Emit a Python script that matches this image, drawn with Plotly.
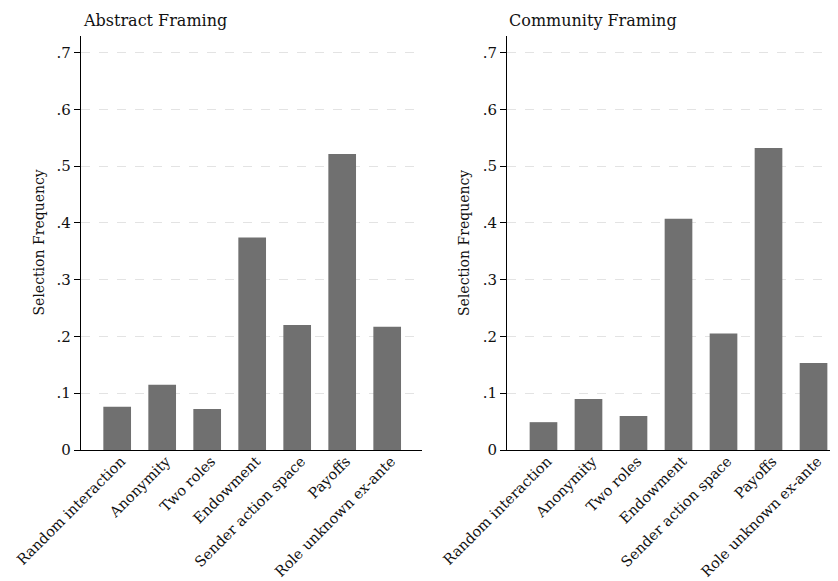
import plotly.graph_objects as go

categories = ["Random interaction", "Anonymity", "Two roles", "Endowment",
              "Sender action space", "Payoffs", "Role unknown ex-ante"]
abstract_vals = [0.076, 0.115, 0.072, 0.374, 0.220, 0.521, 0.217]
community_vals = [0.049, 0.090, 0.060, 0.407, 0.205, 0.532, 0.153]
ytick_vals = [0, 0.1, 0.2, 0.3, 0.4, 0.5, 0.6, 0.7]
ytick_text = ["0", ".1", ".2", ".3", ".4", ".5", ".6", ".7"]
panel_titles = ["Abstract Framing", "Community Framing"]

FONT = "DejaVu Serif"
BAR = "#707070"
OX, OY = 8, 8  # page body margin
W, H = 838 - OX, 581 - OY


def px(x):
    return (x - OX) / W


def py(y):
    return (581 - y) / H


fig = go.Figure()
xs = list(range(len(categories)))
fig.add_trace(go.Bar(x=xs, y=abstract_vals, marker_color=BAR, width=0.615,
                     marker_line_width=0, xaxis="x", yaxis="y", showlegend=False))
fig.add_trace(go.Bar(x=xs, y=community_vals, marker_color=BAR, width=0.615,
                     marker_line_width=0, xaxis="x2", yaxis="y2", showlegend=False))

ydom = [py(450), py(36)]
xaxis_common = dict(tickmode="array", tickvals=xs, ticktext=categories, tickangle=-45,
                    showgrid=False, zeroline=False, showline=True, linecolor="black",
                    linewidth=1.3, ticks="", automargin=False,
                    ticklabelstandoff=-4, ticklabelshift=4,
                    tickfont=dict(family=FONT, size=14.5, color="#111"))
yaxis_common = dict(range=[0, 0.729], tickmode="array", tickvals=ytick_vals, ticktext=ytick_text,
                    showgrid=True, gridcolor="#e3e3e3", griddash="dash", gridwidth=1,
                    zeroline=False, showline=True, linecolor="black", linewidth=1.3,
                    ticks="outside", ticklen=6, tickcolor="black", automargin=False,
                    tickfont=dict(family=FONT, size=15, color="#111"), domain=ydom)

fig.update_layout(
    template="none",
    width=W, height=H, margin=dict(l=0, r=0, t=0, b=0),
    plot_bgcolor="white", paper_bgcolor="white",
    xaxis=dict(domain=[px(81), px(421.7)], range=[-0.804, 6.767], anchor="y", **xaxis_common),
    yaxis=dict(anchor="x", **yaxis_common),
    xaxis2=dict(domain=[px(507.3), 1.0], range=[-0.804, 6.544], anchor="y2", **xaxis_common),
    yaxis2=dict(anchor="x2", **yaxis_common),
)

annots = []
for xp, t in [(84, panel_titles[0]), (510, panel_titles[1])]:
    annots.append(dict(x=px(xp), y=py(32), xref="paper", yref="paper",
                       text=t, showarrow=False, xanchor="left", yanchor="bottom",
                       xshift=-3, font=dict(family=FONT, size=16, color="#111")))
for xp in [38.5, 464]:
    annots.append(dict(x=px(xp), y=py(243), xref="paper", yref="paper",
                       text="Selection Frequency", showarrow=False, textangle=-90,
                       xanchor="center", yanchor="middle",
                       font=dict(family=FONT, size=14, color="#111")))
fig.update_layout(annotations=annots)

fig.write_html("out.html")
